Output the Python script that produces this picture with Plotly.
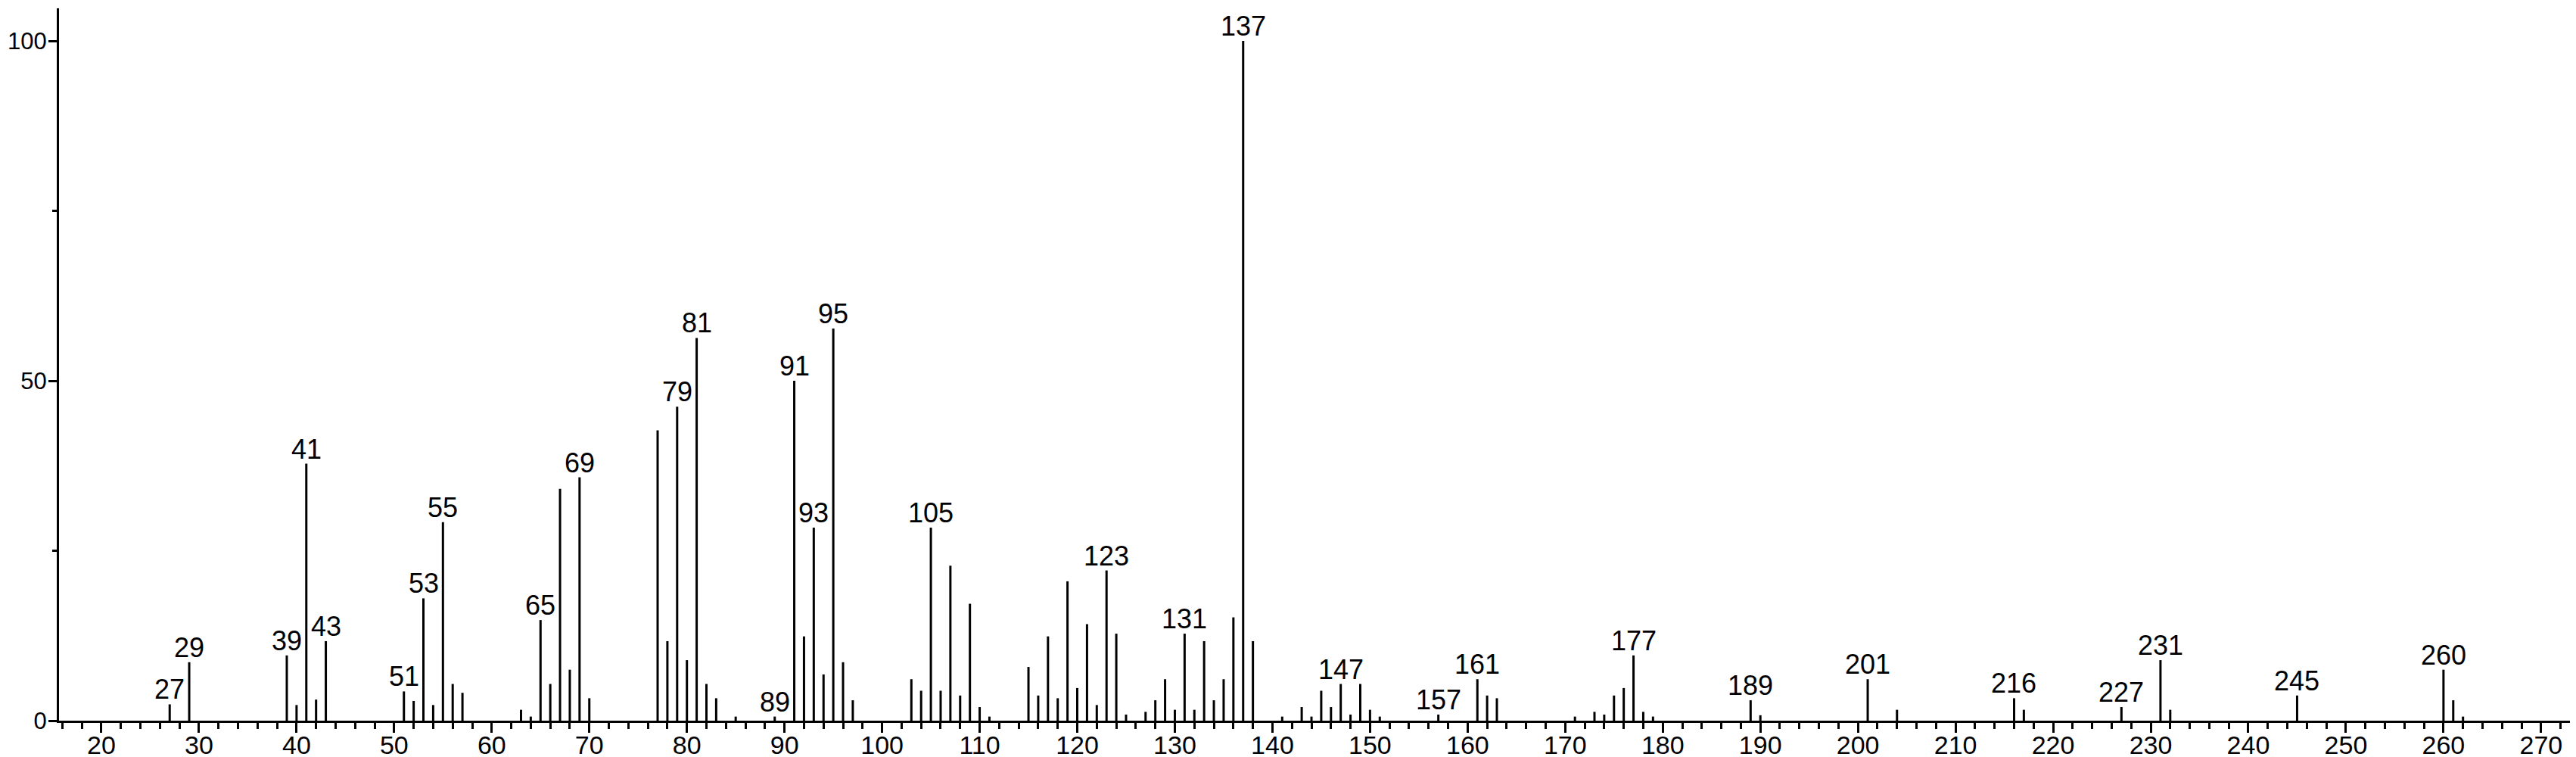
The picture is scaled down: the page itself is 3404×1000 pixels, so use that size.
import plotly.graph_objects as go

# m/z values and relative intensities (%)
mz = [27, 29, 39, 40, 41, 42, 43, 51, 52, 53, 54, 55, 56, 57, 63, 64, 65, 66, 67, 68, 69, 70,
      77, 78, 79, 80, 81, 82, 83, 85, 89, 91, 92, 93, 94, 95, 96, 97, 103, 104, 105, 106, 107,
      108, 109, 110, 111, 115, 116, 117, 118, 119, 120, 121, 122, 123, 124, 125, 127, 128, 129,
      130, 131, 132, 133, 134, 135, 136, 137, 138, 141, 143, 144, 145, 146, 147, 148, 149, 150,
      151, 157, 161, 162, 163, 171, 173, 174, 175, 176, 177, 178, 179, 189, 190, 201, 204, 216,
      217, 227, 231, 232, 245, 260, 261, 262]
intensity = [2.4, 8.6, 9.6, 2.3, 37.8, 3.1, 11.7, 4.3, 2.9, 18.0, 2.3, 29.2, 5.4, 4.1, 1.6, 0.6,
             14.8, 5.4, 34.1, 7.5, 35.8, 3.3, 42.7, 11.7, 46.2, 8.9, 56.3, 5.4, 3.3, 0.6, 0.6,
             50.0, 12.4, 28.4, 6.8, 57.7, 8.6, 3.0, 6.1, 4.4, 28.4, 4.4, 22.8, 3.7, 17.2, 2.0,
             0.6, 7.9, 3.7, 12.4, 3.3, 20.5, 4.8, 14.2, 2.3, 22.1, 12.8, 0.9, 1.3, 3.0, 6.1,
             1.6, 12.8, 1.6, 11.7, 3.0, 6.1, 15.2, 100.0, 11.7, 0.6, 2.0, 0.6, 4.4, 2.0, 5.4,
             0.9, 5.4, 1.6, 0.6, 0.9, 6.1, 3.7, 3.3, 0.6, 1.3, 0.9, 3.7, 4.8, 9.6, 1.3, 0.6,
             3.0, 0.8, 6.1, 1.6, 3.3, 1.6, 2.0, 8.9, 1.6, 3.7, 7.5, 3.0, 0.6]
labeled_mz = [27, 29, 39, 41, 43, 51, 53, 55, 65, 69, 79, 81, 89, 91, 93, 95, 105, 123, 131,
              137, 147, 157, 161, 177, 189, 201, 216, 227, 231, 245, 260]
y_tick_vals = [0, 50, 100]
y_tick_text = ["0", "50", "100"]

xs, ys = [], []
for m, h in zip(mz, intensity):
    xs += [m, m, None]
    ys += [0, h, None]

fig = go.Figure(go.Scatter(x=xs, y=ys, mode="lines",
                           line=dict(color="black", width=3),
                           hoverinfo="skip", cliponaxis=False))

lookup = dict(zip(mz, intensity))
for m in labeled_mz:
    fig.add_annotation(x=m, y=lookup[m], text=str(m), showarrow=False,
                       xanchor="center", yanchor="bottom", yshift=-3,
                       font=dict(size=36, color="black"))

FONT = "Liberation Sans, Arial, Helvetica, sans-serif"
fig.update_layout(
    width=3404, height=1000,
    margin=dict(l=70, r=0, t=3, b=56),
    plot_bgcolor="white", paper_bgcolor="white",
    showlegend=False,
    font=dict(family=FONT, size=34, color="black"),
)
fig.update_xaxes(
    range=[15.66, 274.2], tickmode="linear", tick0=0, dtick=10,
    ticks="outside", ticklen=13, tickwidth=3, tickcolor="black",
    showline=True, linewidth=3, linecolor="black",
    showgrid=False, zeroline=False, automargin=False,
    ticklabelstandoff=-13,
    tickfont=dict(size=34, color="black"),
    minor=dict(tick0=0, dtick=2, ticks="outside", ticklen=8, tickwidth=3,
               tickcolor="black", showgrid=False),
)
fig.update_yaxes(
    range=[0, 104.8], tickmode="array", tickvals=y_tick_vals, ticktext=y_tick_text,
    ticks="outside", ticklen=11, tickwidth=3, tickcolor="black",
    showline=True, linewidth=3, linecolor="black",
    showgrid=False, zeroline=False, automargin=False,
    ticklabelstandoff=-4,
    tickfont=dict(size=31, color="black"),
    minor=dict(tick0=0, dtick=25, ticks="outside", ticklen=6, tickwidth=3,
               tickcolor="black", showgrid=False),
)

fig.write_html("out.html")
